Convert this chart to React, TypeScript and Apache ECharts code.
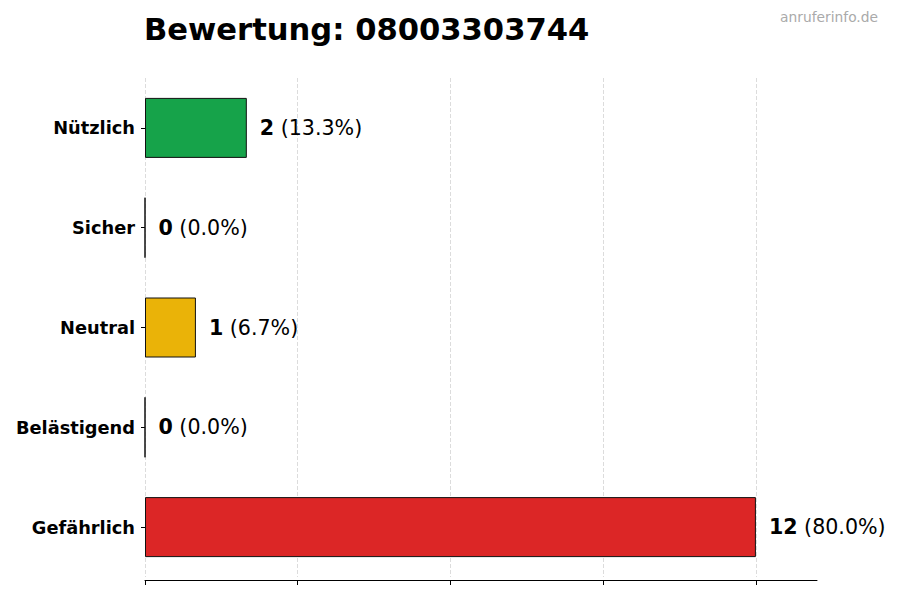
import React, { useEffect, useRef } from 'react';
import * as echarts from 'echarts';

const categories = ['Nützlich', 'Sicher', 'Neutral', 'Belästigend', 'Gefährlich'];
const counts = [2, 0, 1, 0, 12];
const colors = ['#16a34a', '#2563eb', '#eab308', '#f97316', '#dc2626'];
const xTicks = [0, 3, 6, 9, 12];

const FONT = 'DejaVu Sans';

export default function App() {
  const chartRef = useRef<HTMLDivElement>(null);

  useEffect(() => {
    if (!chartRef.current) return;
    const chart = echarts.init(chartRef.current, undefined, { renderer: 'svg' });
    const total = counts.reduce((a, b) => a + b, 0);
    const maxVal = Math.max(...counts) * 1.1;

    const option: echarts.EChartsOption = {
      animation: false,
      textStyle: { fontFamily: FONT },
      title: [
        {
          text: 'Bewertung: 08003303744',
          left: 139,
          top: 9,
          textStyle: { fontFamily: FONT, fontSize: 30.6, fontWeight: 'bold', color: '#000' },
        },
        {
          text: 'anruferinfo.de',
          right: 17,
          top: 5,
          textStyle: { fontFamily: FONT, fontSize: 13.8, fontWeight: 'normal', color: '#aaaaaa' },
        },
      ],
      grid: { left: 145, right: 83, top: 78, bottom: 23 },
      xAxis: {
        type: 'value',
        min: 0,
        max: maxVal,
        interval: xTicks[1] - xTicks[0],
        offset: 3,
        axisLine: { show: true, lineStyle: { color: '#000', width: 1 } },
        axisTick: { show: true, length: 5, lineStyle: { color: '#000' }, customValues: xTicks },
        axisLabel: { show: false },
        splitLine: { show: true, lineStyle: { type: 'dashed', color: '#dcdcdc', width: 1 } },
      } as any,
      yAxis: {
        type: 'category',
        inverse: true,
        data: categories,
        axisLine: { show: false },
        axisTick: { show: true, alignWithLabel: true, length: 4, lineStyle: { color: '#000' } },
        axisLabel: {
          margin: 10,
          fontFamily: FONT,
          fontSize: 17.8,
          fontWeight: 'bold',
          color: '#000',
        },
        splitLine: { show: false },
      },
      series: [
        {
          type: 'bar',
          barWidth: 60,
          data: counts.map((v, i) => ({
            value: v,
            itemStyle: { color: colors[i], borderColor: '#111', borderWidth: 1 },
          })),
          label: {
            show: true,
            position: 'right',
            distance: 13,
            formatter: (p: any) => {
              const pct = total ? ((p.value / total) * 100).toFixed(1) : '0.0';
              return `{b|${p.value}}{n| (${pct}%)}`;
            },
            rich: {
              b: { fontFamily: FONT, fontSize: 20.6, fontWeight: 'bold', color: '#000' },
              n: { fontFamily: FONT, fontSize: 20.6, fontWeight: 'normal', color: '#000' },
            },
          },
        },
      ],
    };

    chart.setOption(option);
    return () => {
      chart.dispose();
    };
  }, []);

  return <div ref={chartRef} style={{ width: 900, height: 600, margin: -8 }} />;
}
